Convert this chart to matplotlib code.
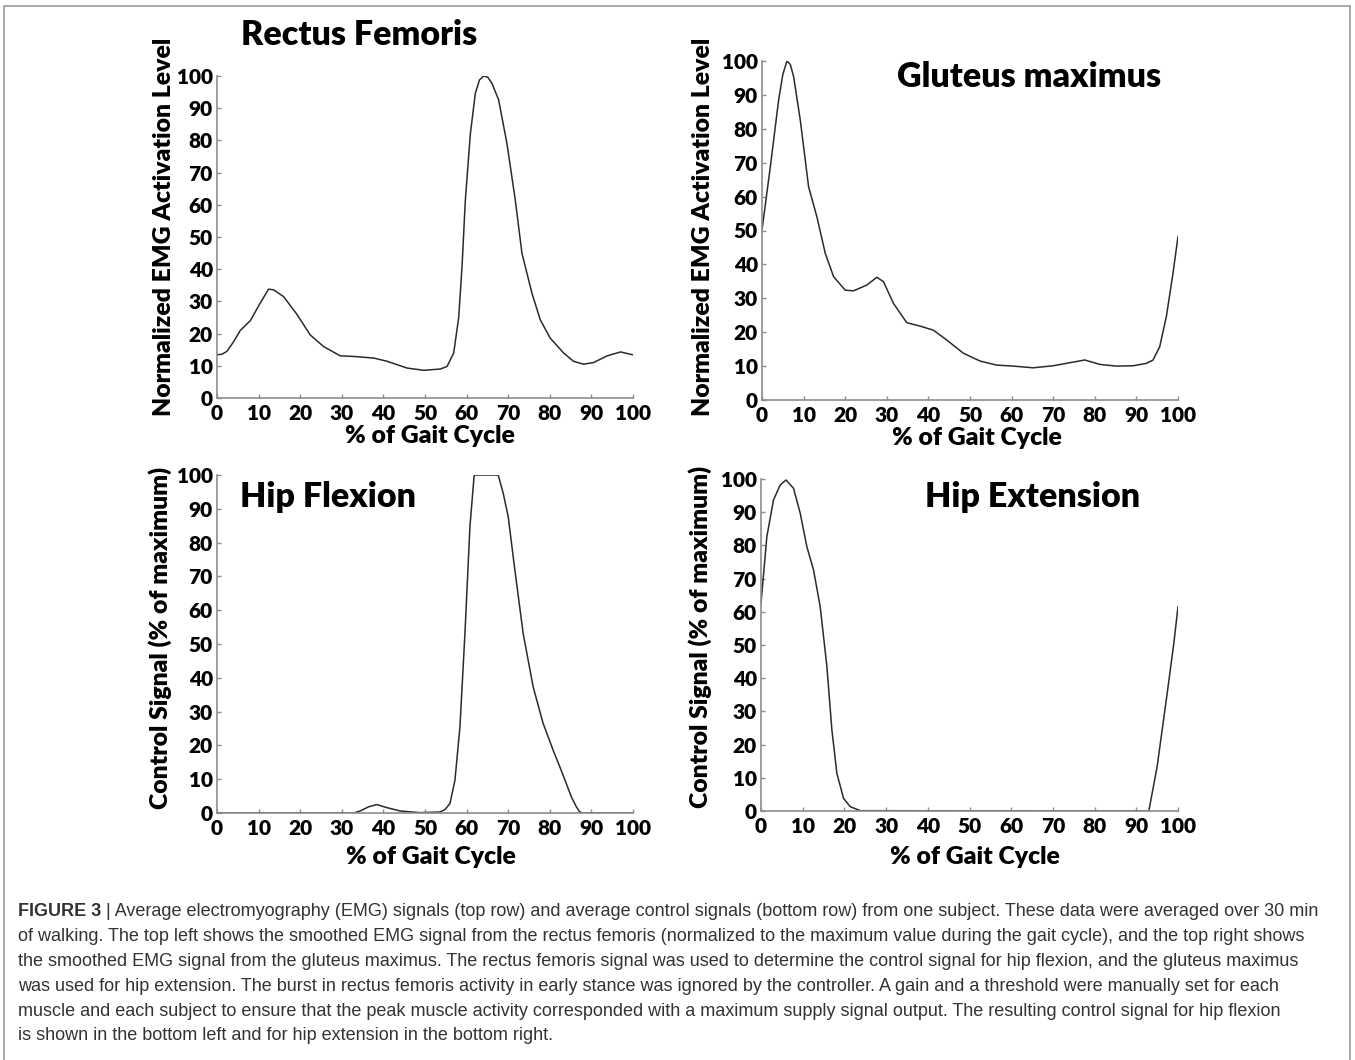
import matplotlib
matplotlib.use("Agg")
import matplotlib.pyplot as plt
from matplotlib.patches import Rectangle

W, H = 1355, 1060

# ---- data (x = % of gait cycle) ----
rf_x = [0, 1.2, 2.4, 4, 5.6, 8, 10.4, 12.4, 13.6, 16, 19.2, 22.4, 25.6, 29.6, 32.9, 37.7,
        40.9, 45.7, 49.7, 53.7, 55.3, 56.9, 58.1, 58.9, 59.7, 60.9, 62.1, 63.1, 64.1,
        65.1, 66.1, 67.7, 69.7, 71.7, 73.3, 75.7, 77.7, 80.1, 83.3, 85.7, 88.1, 90.5,
        93.8, 97, 100]
rf_y = [13.4, 13.6, 14.5, 17.5, 21, 24, 29.5, 33.8, 33.6, 31.5, 26, 19.6, 16, 13.1, 12.9,
        12.4, 11.4, 9.3, 8.6, 9.0, 9.8, 14, 25, 40.8, 61.5, 82, 94.6, 98.8, 100,
        99.6, 97.7, 92.6, 79, 61.5, 45, 32.6, 24.3, 18.6, 14, 11.4, 10.5, 11,
        13.1, 14.3, 13.4]

gm_x = [0, 2, 4, 5, 6, 6.8, 7.6, 9.2, 11.2, 13.2, 15.2, 17.2, 20, 22, 25.2, 27.6, 29.2,
        31.6, 34.8, 38, 41.2, 44.4, 48.4, 52.4, 56.4, 60.4, 65.2, 70, 74, 77.6, 81.2,
        85.2, 89.2, 92.4, 94, 95.6, 97.2, 98.8, 100]
gm_y = [50.1, 68.8, 88.5, 96, 100, 99, 95.4, 82.6, 62.9, 54, 43.3, 36.4, 32.4, 32.2,
        33.9, 36.2, 34.9, 28.5, 22.8, 21.8, 20.6, 17.7, 13.8, 11.5, 10.3, 10, 9.5, 10.1,
        11, 11.8, 10.5, 10, 10.1, 10.8, 11.8, 15.7, 24.6, 37.4, 48.2]

hf_x = [0, 32.8, 34.4, 36.4, 38.4, 40.8, 44, 48.8, 53.6, 54.8, 56, 57.2, 58.4, 59.6,
        60.8, 61.8, 62, 67.6, 68.8, 70, 71.6, 73.6, 76, 78.4, 80.8, 83.2, 85.2, 86.4,
        87.2, 88, 100]
hf_y = [0, 0, 0.6, 1.8, 2.5, 1.6, 0.6, 0.1, 0.3, 1, 2.8, 9.7, 25.5, 53.1,
        84.7, 99.7, 100, 100, 94.6, 87.7, 71.9, 53.1, 37.3, 26.5, 18.6, 11.2, 4.7, 1.8,
        0.3, 0, 0]

he_x = [0, 1.4, 3, 4.6, 6, 7.8, 9.4, 11, 12.6, 14.2, 15.8, 17, 18.2, 19.8, 21.4, 23.8,
        93, 95, 97.4, 99, 100]
he_y = [62.5, 82.6, 93.7, 98.2, 99.7, 97.2, 89.7, 79.6, 72.6, 61.5, 43.5, 24.4, 11.3,
        3.8, 1.3, 0.1, 0, 13.4, 35.4, 50.5, 61.5]

ticks = [0, 10, 20, 30, 40, 50, 60, 70, 80, 90, 100]

caption = [
    "Average electromyography (EMG) signals (top row) and average control signals (bottom row) from one subject. These data were averaged over 30 min",
    "of walking. The top left shows the smoothed EMG signal from the rectus femoris (normalized to the maximum value during the gait cycle), and the top right shows",
    "the smoothed EMG signal from the gluteus maximus. The rectus femoris signal was used to determine the control signal for hip flexion, and the gluteus maximus",
    "was used for hip extension. The burst in rectus femoris activity in early stance was ignored by the controller. A gain and a threshold were manually set for each",
    "muscle and each subject to ensure that the peak muscle activity corresponded with a maximum supply signal output. The resulting control signal for hip flexion",
    "is shown in the bottom left and for hip extension in the bottom right.",
]

FONT = "Lato"
plt.rcParams["font.family"] = [FONT, "DejaVu Sans"]
plt.rcParams["font.weight"] = "heavy"

fig = plt.figure(figsize=(W / 100, H / 100), dpi=100)


def fx(px):
    return px / W


def fy(py):
    return 1 - py / H


def make_axes(left, top, right, bottom, xs, ys):
    ax = fig.add_axes([fx(left), fy(bottom), fx(right - left), (bottom - top) / H])
    ax.plot(xs, ys, color="#2b2b2b", lw=1.1)
    ax.set_xlim(0, 100)
    ax.set_ylim(0, 100)
    ax.set_xticks(ticks)
    ax.set_yticks(ticks)
    ax.set_xticklabels([str(t) for t in ticks], fontweight="heavy", fontsize=15)
    ax.set_yticklabels([str(t) for t in ticks], fontweight="heavy", fontsize=15)
    for s in ["top", "right"]:
        ax.spines[s].set_visible(False)
    for s in ["left", "bottom"]:
        ax.spines[s].set_color("#8c8c8c")
        ax.spines[s].set_linewidth(1.2)
    ax.tick_params(direction="in", length=3, width=1, color="#8c8c8c",
                   labelcolor="black", pad=3)
    ax.tick_params(axis="x", pad=4)
    ax.patch.set_alpha(0)
    return ax


make_axes(217, 76, 633, 398, rf_x, rf_y)
make_axes(762, 61, 1178, 400, gm_x, gm_y)
make_axes(217, 475, 633, 813, hf_x, hf_y)
make_axes(761, 479, 1178, 811, he_x, he_y)

# panel titles
tkw = dict(fontweight="heavy", fontsize=24.5, ha="center", va="center")
fig.text(fx(359), fy(35), "Rectus Femoris", **tkw)
fig.text(fx(1029), fy(77), "Gluteus maximus", **tkw)
fig.text(fx(328), fy(497), "Hip Flexion", **tkw)
fig.text(fx(1033), fy(497), "Hip Extension", **tkw)

# axis labels
lkw = dict(fontweight="heavy", fontsize=17.8, ha="center", va="center")
fig.text(fx(430), fy(436), "% of Gait Cycle", **lkw)
fig.text(fx(977), fy(438), "% of Gait Cycle", **lkw)
fig.text(fx(431), fy(857), "% of Gait Cycle", **lkw)
fig.text(fx(975), fy(857), "% of Gait Cycle", **lkw)
fig.text(fx(164), fy(227), "Normalized EMG Activation Level", rotation=90, **lkw)
fig.text(fx(703), fy(227), "Normalized EMG Activation Level", rotation=90, **lkw)
fig.text(fx(160), fy(638), "Control Signal (% of maximum)", rotation=90, **lkw)
fig.text(fx(700), fy(637), "Control Signal (% of maximum)", rotation=90, **lkw)

# outer frame
fig.patches.append(Rectangle((fx(4), fy(1075)), fx(1350 - 4), (1075 - 6) / H,
                             transform=fig.transFigure, fill=False,
                             edgecolor="#9a9a9a", lw=1.2))

# caption
ckw = dict(fontfamily="Liberation Sans", fontsize=13.0, color="#333333",
           ha="left", va="center")
y0 = 912
for i, line in enumerate(caption):
    yy = fy(y0 + i * 24.8)
    if i == 0:
        t = fig.text(fx(18), yy, "FIGURE 3", fontweight="bold", **ckw)
        fig.canvas.draw()
        bb = t.get_window_extent()
        fig.text(bb.x1 / W + fx(5), yy, "| " + line, fontweight="normal", **ckw)
    else:
        fig.text(fx(18), yy, line, fontweight="normal", **ckw)

fig.savefig("out.png", dpi=100)
